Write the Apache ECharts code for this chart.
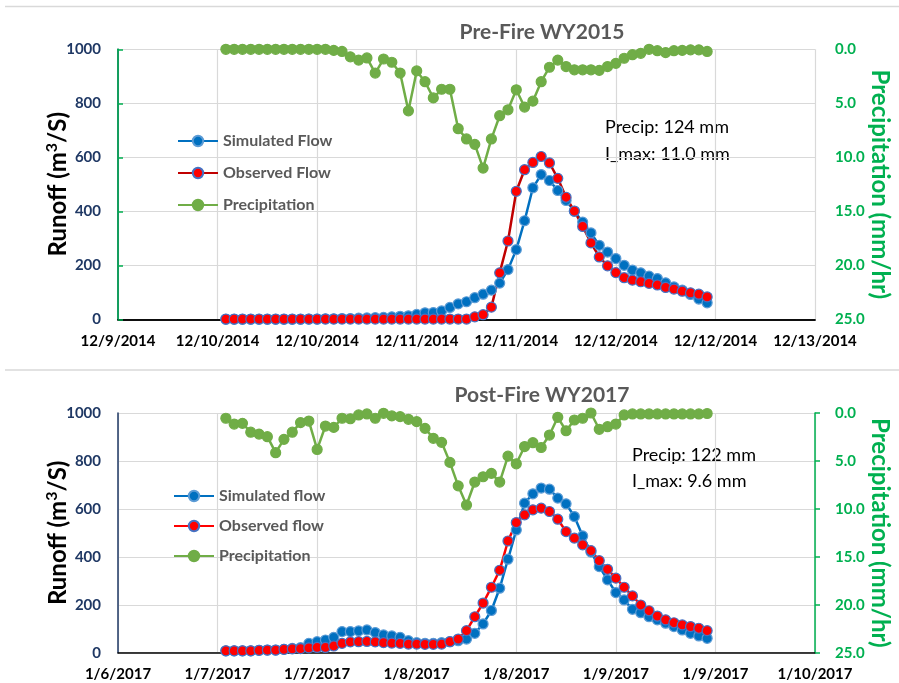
<!DOCTYPE html>
<html><head><meta charset="utf-8">
<script src="https://cdn.jsdelivr.net/npm/echarts@6/dist/echarts.min.js"></script>
<style>html,body{margin:0;padding:0;background:#fff}#c{width:899px;height:683px}</style>
</head><body><div id="c"></div>
<script>
// ---- data ----
const startHour = 13; // first observation hour after axis origin
const xTicks2015 = ['12/9/2014','12/10/2014','12/10/2014','12/11/2014','12/11/2014','12/12/2014','12/12/2014','12/13/2014'];
const xTicks2017 = ['1/6/2017','1/7/2017','1/7/2017','1/8/2017','1/8/2017','1/9/2017','1/9/2017','1/10/2017'];
const runoffTicks = [0,200,400,600,800,1000];
const precipTicks = [0,5,10,15,20,25];

const sim2015 = [0,0,0,0,0,0,0,0,0,0,1,1,2,2,3,3,4,5,6,7,9,11,13,18,24,25,31,44,57,65,80,93,108,134,184,258,365,487,536,514,477,440,400,360,320,274,249,225,200,182,172,160,151,135,120,108,92,75,61];
const obs2015 = [1,1,1,1,1,1,1,1,1,1,1,1,1,1,1,1,1,1,1,1,1,1,1,1,1,1,1,1,1,1,9,17,45,172,290,474,554,581,603,579,522,452,401,344,283,231,198,173,154,145,139,133,127,118,112,104,98,93,83];
const pcp2015 = [0,0,0,0,0,0,0,0,0,0,0,0,0,0.1,0.2,0.7,1.0,0.8,2.2,0.9,1.2,2.2,5.7,2.0,3.0,4.5,3.7,3.7,7.35,8.3,8.8,11.0,8.3,6.15,5.6,3.75,5.35,4.8,3.0,1.66,1.0,1.6,1.9,1.9,1.9,1.95,1.6,1.3,0.83,0.5,0.37,0,0.13,0.3,0.13,0.1,0.05,0.05,0.2];

const sim2017 = [8,8,8,8,10,11,11,14,18,21,39,46,53,64,88,88,91,95,84,74,70,64,50,42,39,39,42,46,50,57,81,120,176,269,390,512,624,663,687,682,645,621,568,487,420,359,304,251,220,181,167,150,137,123,109,95,81,70,60];
const obs2017 = [8,8,8,8,10,11,11,14,16,17,20,22,22,28,39,45,46,47,45,42,40,39,36,36,35,35,36,46,57,92,150,207,273,344,466,543,575,596,603,589,557,505,478,450,426,384,348,311,273,237,199,175,153,137,125,116,109,102,92];
const pcp2017 = [0.55,1.15,1.08,2.0,2.2,2.47,4.14,2.75,2.0,1.0,0.84,3.8,1.36,1.5,0.55,0.6,0.2,0.1,0.55,0.03,0.3,0.38,0.66,0.9,1.6,2.64,3.06,5.15,7.6,9.6,7.2,6.65,6.3,7.2,4.5,5.3,3.5,3.1,3.6,2.3,0.45,1.85,0.73,0.55,0.0,1.7,1.43,1.15,0.2,0.1,0.1,0.1,0.1,0.1,0.1,0.1,0.1,0.1,0.05];

const notes2015 = ['Precip: 124 mm','I_max: 11.0 mm'];
const notes2017 = ['Precip: 122 mm','I_max: 9.6 mm'];

// ---- helpers ----
const pts = arr => arr.map((v,i)=>[startHour+i, v]);
const FONT = "Lato, 'Open Sans', sans-serif";
const NAVY = '#1f3864', GREEN_AX = '#00b050', GRID = '#d9d9d9';
const BLUE = '#0070c0', GREEN = '#70ad47';

const grids = [
  {left:118, top:49.3, width:697, height:270, containLabel:false, outerBoundsMode:'none'},
  {left:118, top:413, width:697, height:239.7, containLabel:false, outerBoundsMode:'none'}
];

function xAxisFor(gi, labels){
  return {
    type:'value', gridIndex:gi, min:0, max:84, interval:12,
    axisLine:{show:true, onZero:false, lineStyle:{color:'#000', width:1.5}},
    axisTick:{show:false},
    splitLine:{show:true, lineStyle:{color:GRID, width:1.2}},
    axisLabel:{margin:14, fontFamily:"'Liberation Sans Narrow', Lato, sans-serif", fontWeight:'bold', fontSize:15, color:'#000',
      formatter: v => labels[Math.round(v/12)] || ''}
  };
}
function leftY(gi){
  return {
    type:'value', gridIndex:gi, min:0, max:1000, interval:200, position:'left',
    name:'Runoff (m{sup|3}/S)', nameLocation:'middle', nameGap:46, nameMoveOverlap:false,
    nameTextStyle:{fontFamily:FONT, fontWeight:'bold', fontSize:24, color:'#000',
      rich:{sup:{fontFamily:FONT, fontWeight:'bold', fontSize:16, color:'#000', verticalAlign:'top', padding:[0,0,12,0]}}},
    axisLine:{show:true, lineStyle:{color:NAVY, width:1.5}},
    axisTick:{show:false},
    splitLine:{show:true, lineStyle:{color:GRID, width:1.2}},
    axisLabel:{margin:17, fontFamily:FONT, fontWeight:'bold', fontSize:15, color:NAVY, formatter: v => String(v)}
  };
}
function rightY(gi){
  return {
    type:'value', gridIndex:gi, min:0, max:25, interval:5, inverse:true, position:'right',
    name:'Precipitation (mm/hr)', nameLocation:'middle', nameGap:53, nameRotate:-90, nameMoveOverlap:false,
    nameTextStyle:{fontFamily:FONT, fontWeight:'bold', fontSize:24, color:GREEN_AX},
    axisLine:{show:true, lineStyle:{color:GREEN_AX, width:1.5}},
    axisTick:{show:true, inside:false, length:5, lineStyle:{color:GREEN_AX, width:1.5}},
    splitLine:{show:false},
    axisLabel:{margin:20, fontFamily:FONT, fontWeight:'bold', fontSize:15, color:GREEN_AX,
      formatter: v => v.toFixed(1)}
  };
}
function flowSeries(name, data, xi, yi, lineColor, fill, border){
  return {type:'line', name, data:pts(data), xAxisIndex:xi, yAxisIndex:yi,
    symbol:'circle', symbolSize:10, showSymbol:true, animation:false,
    lineStyle:{color:lineColor, width:2.5},
    itemStyle:{color:fill, borderColor:border, borderWidth:1.2}};
}

const option = {
  animation:false,
  backgroundColor:'#fff',
  title:[
    {text:'Pre-Fire WY2015', left:537, top:17, textAlign:'center',
     textStyle:{fontFamily:FONT, fontWeight:'bold', fontSize:21, color:'#595959'}},
    {text:'Post-Fire WY2017', left:537, top:380, textAlign:'center',
     textStyle:{fontFamily:FONT, fontWeight:'bold', fontSize:21, color:'#595959'}}
  ],
  grid: grids,
  legend:[
    {data:['Simulated Flow','Observed Flow','Precipitation'], orient:'vertical', left:172, top:128,
     itemWidth:40, itemHeight:13, itemGap:16, selectedMode:false,
     textStyle:{fontFamily:FONT, fontWeight:'bold', fontSize:16, color:'#595959'}},
    {data:['Simulated flow','Observed flow','Precipitation'], orient:'vertical', left:168, top:483,
     itemWidth:40, itemHeight:13, itemGap:14, selectedMode:false,
     textStyle:{fontFamily:FONT, fontWeight:'bold', fontSize:16, color:'#595959'}}
  ],
  xAxis:[
    xAxisFor(0, xTicks2015),
    xAxisFor(1, xTicks2017),
    {type:'value', gridIndex:0, min:0, max:84, position:'top',
     axisLine:{show:true, lineStyle:{color:'#000', width:1.5}}, axisTick:{show:false},
     axisLabel:{show:false}, splitLine:{show:false}}
  ],
  yAxis:[ leftY(0), rightY(0), leftY(1), rightY(1) ],
  series:[
    flowSeries('Simulated Flow', sim2015, 0, 0, BLUE, BLUE, '#5b9bd5'),
    flowSeries('Observed Flow', obs2015, 0, 0, '#c00000', '#ff0000', '#4472c4'),
    flowSeries('Precipitation', pcp2015, 0, 1, GREEN, GREEN, GREEN),
    flowSeries('Simulated flow', sim2017, 1, 2, BLUE, BLUE, '#5b9bd5'),
    flowSeries('Observed flow', obs2017, 1, 2, '#ff0000', '#ff0000', '#4472c4'),
    flowSeries('Precipitation', pcp2017, 1, 3, GREEN, GREEN, GREEN)
  ],
  graphic:[
    {type:'line', shape:{x1:5,y1:6.5,x2:899,y2:6.5}, style:{stroke:'#d9d9d9', lineWidth:1.5}},
    {type:'line', shape:{x1:5,y1:370,x2:899,y2:370}, style:{stroke:'#d9d9d9', lineWidth:1.5}},
    {type:'text', left:605, top:118, style:{text:notes2015[0], font:"18px Lato, sans-serif", fill:'#000'}},
    {type:'text', left:605, top:145, style:{text:notes2015[1], font:"18px Lato, sans-serif", fill:'#000'}},
    {type:'text', left:632, top:446, style:{text:notes2017[0], font:"18px Lato, sans-serif", fill:'#000'}},
    {type:'text', left:632, top:472, style:{text:notes2017[1], font:"18px Lato, sans-serif", fill:'#000'}}
  ]
};
const chart = echarts.init(document.getElementById('c'), null, {renderer:'canvas'});
chart.setOption(option);
</script></body></html>
